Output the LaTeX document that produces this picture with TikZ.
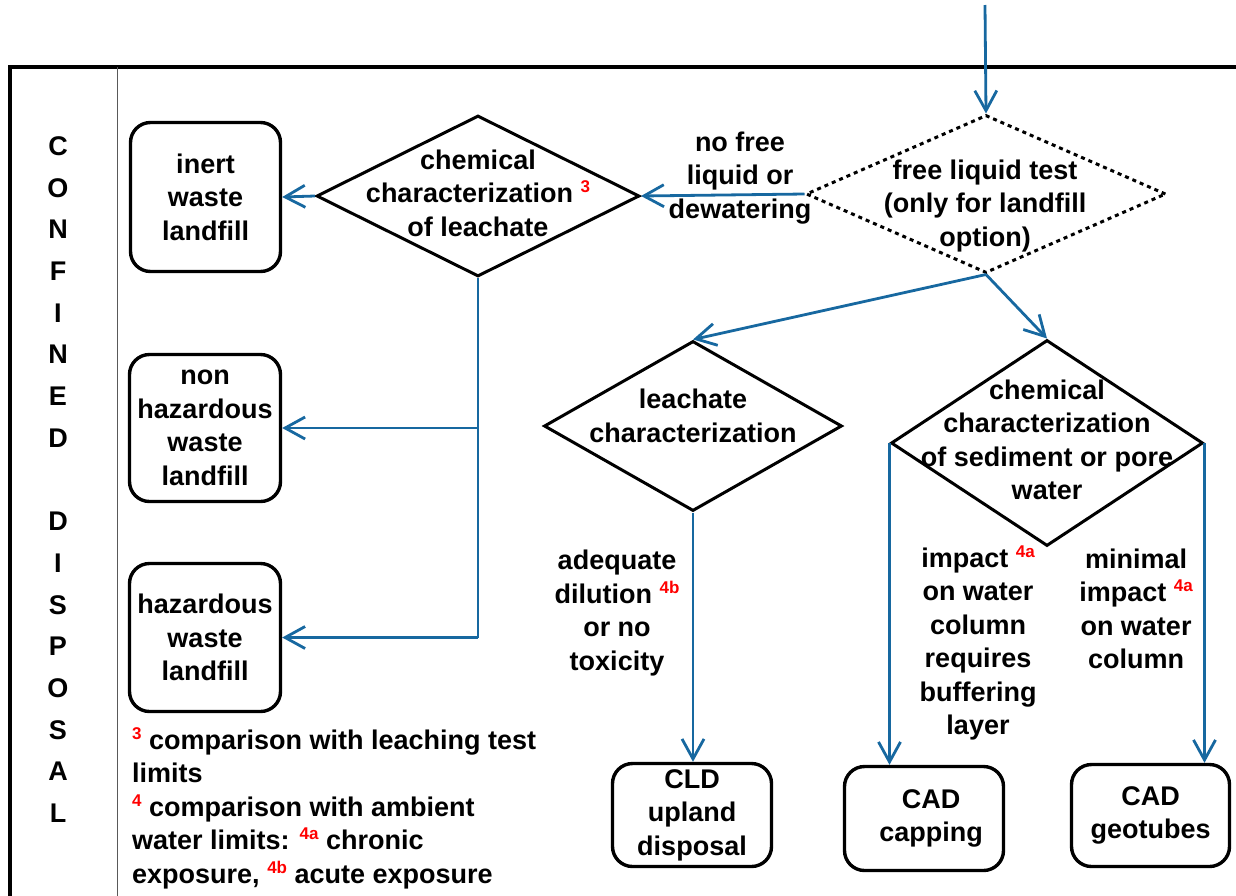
\documentclass[tikz,border=0pt]{standalone}
\usepackage{fontspec}
\setmainfont{Liberation Sans}
\usetikzlibrary{arrows.meta,shapes.geometric}
\definecolor{flowblue}{RGB}{23,104,160}
\definecolor{supred}{RGB}{255,0,0}
\newcommand{\rsup}[1]{\raisebox{10pt}{\fontsize{17}{17}\selectfont\color{supred}#1}}
\begin{document}
\begin{tikzpicture}[x=1pt,y=-1pt,
  txt/.style={font=\fontsize{27}{33.5}\selectfont\bfseries, align=center, inner sep=0pt},
  endbox/.style={txt, draw=black, line width=3.4pt, rounded corners=20pt},
  decision/.style={draw=black, shape=diamond, line width=3pt, inner sep=0pt},
  testdec/.style={decision, dash pattern=on 4pt off 4pt},
  flow/.style={draw=flowblue, line width=2.8pt, -{Straight Barb[length=20pt,width=22pt]}},
  trunk/.style={draw=flowblue, line width=2.2pt},
  frameline/.style={draw=black, line width=3.5pt},
  thinline/.style={draw=black!65, line width=1pt}]
\useasboundingbox (0,0) rectangle (1236,895);
% frame
\draw[frameline] (1240,67) -- (10,67) -- (10,900);
\draw[thinline] (117,67) -- (117,900);
\node[font=\fontsize{27}{41.7}\selectfont\bfseries, align=center, inner sep=0pt] (side) at (58,479.5)
  {C\\O\\N\\F\\I\\N\\E\\D\\\mbox{}\\D\\I\\S\\P\\O\\S\\A\\L};
% decisions
\coordinate (start) at (985,5);
\node[testdec, minimum width=360pt, minimum height=158pt] (fl) at (986,194) {};
\node[txt] (fltxt) at (985,206) {free liquid test\\(only for landfill\\option)};
\node[decision, minimum width=323pt, minimum height=161pt] (cl) at (478,196) {};
\node[txt] (cltxt) at (478,193) {chemical\\characterization \rsup{3}\\of leachate};
\node[txt] (nofree) at (740,178) {no free\\liquid or\\dewatering};
\node[decision, minimum width=298pt, minimum height=170pt] (lc) at (693,426) {};
\node[txt] (lctxt) at (693,416) {leachate\\characterization};
\node[decision, minimum width=312pt, minimum height=206pt] (sc) at (1047,443) {};
\node[txt] (sctxt) at (1047,440) {chemical\\characterization\\of sediment or pore\\water};
% labels
\node[txt] (adeq) at (617,613) {adequate\\dilution \rsup{4b}\\or no\\toxicity};
\node[txt] (impact) at (978,643) {impact \rsup{4a}\\on water\\column\\requires\\buffering\\layer};
\node[txt] (minimal) at (1136,609) {minimal\\impact \rsup{4a}\\on water\\column};
% end boxes
\node[endbox, minimum width=150pt, minimum height=149pt] (inert) at (205.5,197) {inert\\waste\\landfill};
\node[endbox, minimum width=151pt, minimum height=147pt] (nonhaz) at (205,428) {non\\hazardous\\waste\\landfill};
\node[endbox, minimum width=151pt, minimum height=148pt] (haz) at (205,637.5) {hazardous\\waste\\landfill};
\node[endbox, minimum width=159pt, minimum height=103pt] (cld) at (692,815) {CLD\\upland\\disposal};
\node[endbox, minimum width=159pt, minimum height=104pt] (cap) at (924,818.5) {\hspace*{14pt}CAD\\\hspace*{14pt}capping};
\node[endbox, minimum width=158pt, minimum height=102pt] (geo) at (1150.5,815.5) {CAD\\geotubes};
% footnotes
\node[txt, align=left, anchor=west] (notes) at (132,808)
  {\rsup{3} comparison with leaching test\\limits\\\rsup{4} comparison with ambient\\water limits: \rsup{4a} chronic\\exposure, \rsup{4b} acute exposure};
% connectors
\draw[flow] (start) -- (fl.north);
\draw[flow] (fl.west) -- (cl.east);
\draw[flow] (cl.west) -- (inert.east);
\draw[trunk] (cl.south) -- (cl.south |- haz.east);
\draw[flow] (cl.south |- haz.east) -- (haz.east);
\draw[flow] (cl.south |- nonhaz.east) -- (nonhaz.east);
\draw[flow] (fl.south) -- (lc.north);
\draw[flow] (fl.south) -- (sc.north);
\draw[flow] (lc.south) -- (lc.south |- cld.north);
\draw[flow] (sc.west) -- (sc.west |- cap.north);
\draw[flow] (sc.east) -- (sc.east |- geo.north);
\end{tikzpicture}
\end{document}
